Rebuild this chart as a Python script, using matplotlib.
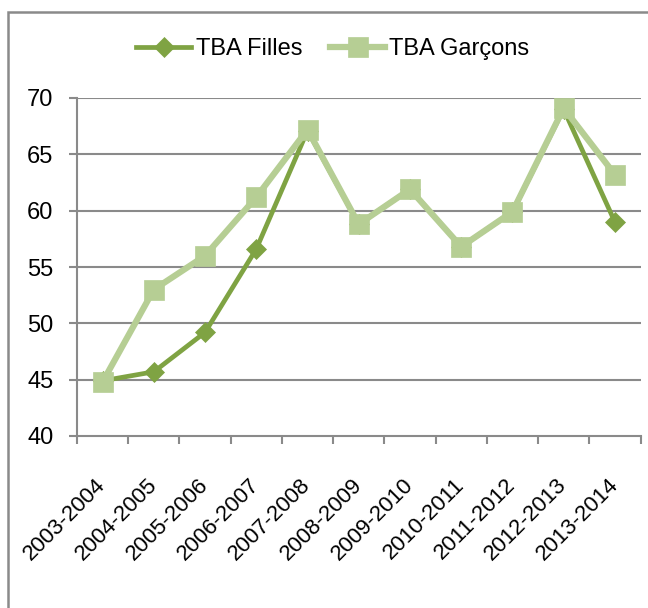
import matplotlib
matplotlib.use("Agg")
import matplotlib.pyplot as plt
from matplotlib.patches import Rectangle
import numpy as np

categories = ["2003-2004", "2004-2005", "2005-2006", "2006-2007", "2007-2008",
              "2008-2009", "2009-2010", "2010-2011", "2011-2012", "2012-2013", "2013-2014"]
filles = [44.9, 45.7, 49.2, 56.6, 67.1, 58.8, 61.9, 56.8, 59.9, 69.0, 59.0]
garcons = [44.8, 53.0, 56.0, 61.2, 67.2, 58.8, 61.9, 56.8, 59.9, 69.1, 63.2]
yticks = [40, 45, 50, 55, 60, 65, 70]

plt.rcParams['font.family'] = ['Liberation Sans', 'DejaVu Sans']

W, H = 648, 608
fig = plt.figure(figsize=(W / 100, H / 100), dpi=100)
ax = fig.add_axes([77 / W, 1 - 436 / H, (640.5 - 77) / W, (436 - 98) / H])

dark = '#7fa343'
light = '#b6ce94'
grid = '#8a8a8a'

x = np.arange(len(categories))
l1, = ax.plot(x, filles, color=dark, lw=3.4, marker='D', markersize=9.8,
              markerfacecolor=dark, markeredgecolor=dark, markeredgewidth=0.5,
              label='TBA Filles', zorder=3)
l2, = ax.plot(x, garcons, color=light, lw=4.5, marker='s', markersize=14.5,
              markerfacecolor=light, markeredgecolor=light, markeredgewidth=0.5,
              label='TBA Garçons', zorder=4)

ax.set_xlim(-0.5, len(categories) - 0.5)
ax.set_ylim(40, 70)
ax.set_yticks(yticks)
ax.set_yticklabels([str(v) for v in yticks], fontsize=17)
for v in yticks[1:]:
    ax.axhline(v, color=grid, lw=1.5, zorder=1)

ax.set_xticks(x)
ax.set_xticklabels(categories, rotation=45, ha='right', va='center',
                   rotation_mode='anchor', fontsize=16)
ax.set_xticks(np.arange(-0.5, len(categories), 1.0), minor=True)
ax.tick_params(axis='x', which='major', length=0, pad=33)
ax.tick_params(axis='x', which='minor', length=6, width=1.5, color=grid)
ax.tick_params(axis='y', length=6, width=1.5, color=grid, pad=11)

for s in ['top', 'right']:
    ax.spines[s].set_visible(False)
for s in ['left', 'bottom']:
    ax.spines[s].set_color(grid)
    ax.spines[s].set_linewidth(1.5)

fig.legend(handles=[l1, l2], loc='center', bbox_to_anchor=(333 / W, 1 - 49 / H),
           ncol=2, frameon=False, fontsize=17, handlelength=2.3, columnspacing=1.2,
           handletextpad=0.2)

fig.patches.append(Rectangle((8 / W, -0.1), 1.2, 1.1 - 12 / H, transform=fig.transFigure,
                             fill=False, edgecolor='#8a8a8a', lw=1.8))

fig.savefig('out.png', dpi=100)
